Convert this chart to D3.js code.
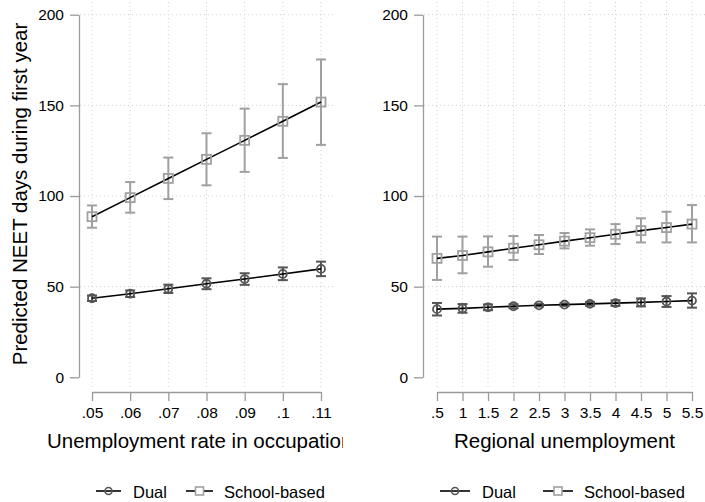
<!DOCTYPE html>
<html><head><meta charset="utf-8">
<script src="https://cdn.jsdelivr.net/npm/d3@7"></script>
<style>
body{margin:0;background:#fff;}
svg{display:block;font-family:"Liberation Sans",Arial,sans-serif;}
</style></head>
<body>
<svg id="chart" width="705" height="502"></svg>
<script>
// ---- data ----
const occX = [0.05, 0.06, 0.07, 0.08, 0.09, 0.10, 0.11];
const occXLabels = [".05", ".06", ".07", ".08", ".09", ".1", ".11"];
const occDual = [43.6, 46.1, 48.8, 51.6, 54.2, 57.0, 59.8];
const occDualLo = [42.1, 44.3, 46.5, 48.6, 51.0, 53.6, 55.8];
const occDualHi = [45.1, 47.9, 51.1, 54.6, 57.4, 60.6, 63.8];
const occSchool = [88.6, 99.1, 109.7, 120.2, 130.7, 141.2, 151.8];
const occSchoolLo = [82.5, 90.8, 98.3, 105.9, 113.3, 121.0, 128.2];
const occSchoolHi = [94.8, 107.7, 121.2, 134.6, 148.2, 161.7, 175.3];

const regX = [0.5, 1, 1.5, 2, 2.5, 3, 3.5, 4, 4.5, 5, 5.5];
const regXLabels = [".5", "1", "1.5", "2", "2.5", "3", "3.5", "4", "4.5", "5", "5.5"];
const regDual = [37.6, 38.0, 38.6, 39.2, 39.7, 40.1, 40.5, 40.9, 41.3, 41.8, 42.3];
const regDualLo = [34.1, 35.6, 37.0, 38.1, 39.0, 39.4, 39.5, 39.4, 39.1, 38.8, 38.4];
const regDualHi = [41.0, 40.4, 40.2, 40.3, 40.4, 40.8, 41.5, 42.4, 43.5, 44.8, 46.3];
const regSchool = [65.6, 67.2, 69.2, 71.2, 73.1, 75.1, 77.0, 78.9, 80.9, 82.6, 84.5];
const regSchoolLo = [53.7, 57.4, 61.0, 64.7, 68.0, 71.1, 72.6, 73.5, 74.4, 74.4, 74.4];
const regSchoolHi = [77.6, 77.6, 77.7, 77.9, 78.5, 79.6, 81.6, 84.5, 87.7, 91.3, 95.0];

const yTicks = [0, 50, 100, 150, 200];
const seriesNames = ["Dual", "School-based"];
const yTitle = "Predicted NEET days during first year";
const xTitles = ["Unemployment rate in occupation", "Regional unemployment"];

// ---- drawing ----
const svg = d3.select("#chart");
const FONT_TICK = 15.5, FONT_TITLE = 20.5, FONT_LEG = 16.5;
const dualCol = "#555555", schoolCol = "#a0a0a0", axisCol = "#9a9a9a", gridCol = "#cfcfcf";

const panels = [
  {x: occX, labels: occXLabels, dual: [occDual, occDualLo, occDualHi], school: [occSchool, occSchoolLo, occSchoolHi],
   xr: [92, 321], yAxisX: 79, plotRight: 334, titleX: 47, titleAnchor: "start", clipRight: 343,
   leg: {dl: [96, 121], dt: 133, sl: [186, 213], st: 224}},
  {x: regX, labels: regXLabels, dual: [regDual, regDualLo, regDualHi], school: [regSchool, regSchoolLo, regSchoolHi],
   xr: [437, 692], yAxisX: 423, plotRight: 705, titleX: 564.5, titleAnchor: "middle", clipRight: 705,
   leg: {dl: [440, 470], dt: 482, sl: [543, 573], st: 584}}
];

const y = d3.scaleLinear().domain([0, 200]).range([377.3, 14.7]);

panels.forEach((p, pi) => {
  const g = svg.append("g");
  const x = d3.scaleLinear().domain([p.x[0], p.x[p.x.length - 1]]).range(p.xr);

  // grid
  g.selectAll(".hg").data(yTicks.filter(d => d > 0)).join("line")
    .attr("x1", p.yAxisX + 1).attr("x2", p.plotRight)
    .attr("y1", d => y(d)).attr("y2", d => y(d))
    .attr("stroke", gridCol).attr("stroke-width", 1).attr("stroke-dasharray", "1,3");
  g.selectAll(".vg").data(p.x).join("line")
    .attr("x1", d => x(d)).attr("x2", d => x(d))
    .attr("y1", 2).attr("y2", 388)
    .attr("stroke", gridCol).attr("stroke-width", 1).attr("stroke-dasharray", "1,3");

  // y axis
  const ya = d3.axisLeft(y).tickValues(yTicks).tickSize(9).tickPadding(6).tickSizeOuter(0);
  const yg = g.append("g").attr("transform", `translate(${p.yAxisX},0)`).call(ya);
  yg.select(".domain").attr("stroke", axisCol).attr("stroke-width", 1.3);
  yg.selectAll(".tick line").attr("stroke", axisCol).attr("stroke-width", 1.3);
  yg.selectAll(".tick text").attr("font-size", FONT_TICK).attr("fill", "#000")
    .attr("font-family", "Liberation Sans, Arial, sans-serif");

  // x axis
  const xa = d3.axisBottom(x).tickValues(p.x).tickFormat((d, i) => p.labels[i])
    .tickSize(9).tickPadding(6).tickSizeOuter(0);
  const xg = g.append("g").attr("transform", "translate(0,392)").call(xa);
  xg.select(".domain").attr("stroke", axisCol).attr("stroke-width", 1.3);
  xg.selectAll(".tick line").attr("stroke", axisCol).attr("stroke-width", 1.3);
  xg.selectAll(".tick text").attr("font-size", FONT_TICK).attr("fill", "#000")
    .attr("font-family", "Liberation Sans, Arial, sans-serif");

  // x title (clipped)
  const cid = "clip" + pi;
  svg.append("clipPath").attr("id", cid).append("rect")
    .attr("x", pi === 0 ? 0 : 350).attr("y", 420).attr("width", p.clipRight - (pi === 0 ? 0 : 350)).attr("height", 40);
  g.append("text").attr("clip-path", `url(#${cid})`)
    .attr("x", p.titleX).attr("y", 447.5).attr("text-anchor", p.titleAnchor)
    .attr("font-size", FONT_TITLE).attr("fill", "#000").text(xTitles[pi]);

  // series
  const series = [
    {vals: p.school, col: schoolCol, shape: "square"},
    {vals: p.dual, col: dualCol, shape: "circle"}
  ];
  const capW = 5;
  series.forEach(s => {
    const [m, lo, hi] = s.vals;
    const idx = d3.range(p.x.length);
    // error bars
    const eb = g.append("g").attr("stroke", s.col).attr("stroke-width", 2).attr("fill", "none");
    eb.selectAll(".v").data(idx).join("line")
      .attr("x1", i => x(p.x[i])).attr("x2", i => x(p.x[i]))
      .attr("y1", i => y(lo[i])).attr("y2", i => y(hi[i]));
    eb.selectAll(".ct").data(idx).join("line")
      .attr("x1", i => x(p.x[i]) - capW).attr("x2", i => x(p.x[i]) + capW)
      .attr("y1", i => y(hi[i])).attr("y2", i => y(hi[i]));
    eb.selectAll(".cb").data(idx).join("line")
      .attr("x1", i => x(p.x[i]) - capW).attr("x2", i => x(p.x[i]) + capW)
      .attr("y1", i => y(lo[i])).attr("y2", i => y(lo[i]));
  });
  series.forEach(s => {
    const [m] = s.vals;
    const idx = d3.range(p.x.length);
    g.append("path").datum(idx)
      .attr("d", d3.line().x(i => x(p.x[i])).y(i => y(m[i])))
      .attr("fill", "none").attr("stroke", "#000").attr("stroke-width", 1.6);
    if (s.shape === "circle") {
      g.selectAll(null).data(idx).join("circle")
        .attr("cx", i => x(p.x[i])).attr("cy", i => y(m[i])).attr("r", 4)
        .attr("fill", "none").attr("stroke", s.col).attr("stroke-width", 1.8);
    } else {
      g.selectAll(null).data(idx).join("rect")
        .attr("x", i => x(p.x[i]) - 4.5).attr("y", i => y(m[i]) - 4.5)
        .attr("width", 9).attr("height", 9)
        .attr("fill", "none").attr("stroke", s.col).attr("stroke-width", 1.8);
    }
  });

  // legend
  const ly = 491;
  const L = p.leg;
  g.append("line").attr("x1", L.dl[0]).attr("x2", L.dl[1]).attr("y1", ly).attr("y2", ly)
    .attr("stroke", "#000").attr("stroke-width", 1.6);
  g.append("circle").attr("cx", (L.dl[0] + L.dl[1]) / 2).attr("cy", ly).attr("r", 3.5)
    .attr("fill", "none").attr("stroke", dualCol).attr("stroke-width", 1.6);
  g.append("text").attr("x", L.dt).attr("y", 497.5).attr("font-size", FONT_LEG).attr("fill", "#000").text(seriesNames[0]);
  g.append("line").attr("x1", L.sl[0]).attr("x2", L.sl[1]).attr("y1", ly).attr("y2", ly)
    .attr("stroke", "#000").attr("stroke-width", 1.6);
  g.append("rect").attr("x", (L.sl[0] + L.sl[1]) / 2 - 4).attr("y", ly - 4).attr("width", 8).attr("height", 8)
    .attr("fill", "#fff").attr("stroke", schoolCol).attr("stroke-width", 1.6);
  g.append("text").attr("x", L.st).attr("y", 497.5).attr("font-size", FONT_LEG).attr("fill", "#000").text(seriesNames[1]);
});

// y title
svg.append("text").attr("transform", "translate(27,194) rotate(-90)")
  .attr("text-anchor", "middle").attr("font-size", FONT_TITLE).attr("fill", "#000").text(yTitle);
</script>
</body></html>
